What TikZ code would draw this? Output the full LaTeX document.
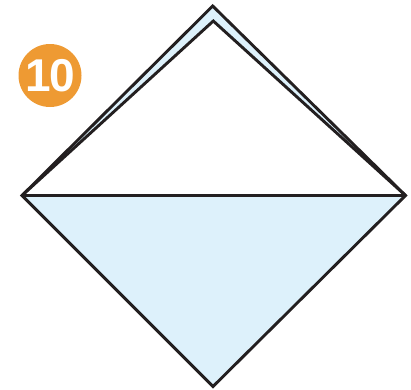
\documentclass[tikz,border=0pt]{standalone}
\usepackage{fontspec}
\setmainfont{Liberation Sans}
\definecolor{paleblue}{HTML}{DDF1FB}
\definecolor{badge}{HTML}{EE9A33}
\definecolor{ink}{HTML}{231F20}
\begin{document}
\begin{tikzpicture}[x=1pt,y=-1pt,
  edge/.style={draw=ink,line width=2.9pt,line join=miter},
  badgecircle/.style={circle,fill=badge,minimum size=63pt,inner sep=0pt,text=white,font=\bfseries\fontsize{46}{46}\selectfont}]
\useasboundingbox (0,0) rectangle (411,389);
\coordinate (T) at (212.7,6);
\coordinate (IT) at (213.3,21);
\coordinate (L) at (22,195.5);
\coordinate (R) at (405.5,195.5);
\coordinate (B) at (213,386.5);
% filled diamond
\fill[paleblue] (T) -- (R) -- (B) -- (L) -- cycle;
% white inner triangle
\fill[white] (L) -- (IT) -- (R) -- cycle;
% outlines
\draw[edge] (T) -- (R) -- (B) -- (L) -- cycle;
\draw[edge] (L) -- (IT) -- (R);
\draw[edge] (L) -- (R);
\node[badgecircle] (badge) at (50,75.5) {1\kern-2pt0};
\end{tikzpicture}
\end{document}
